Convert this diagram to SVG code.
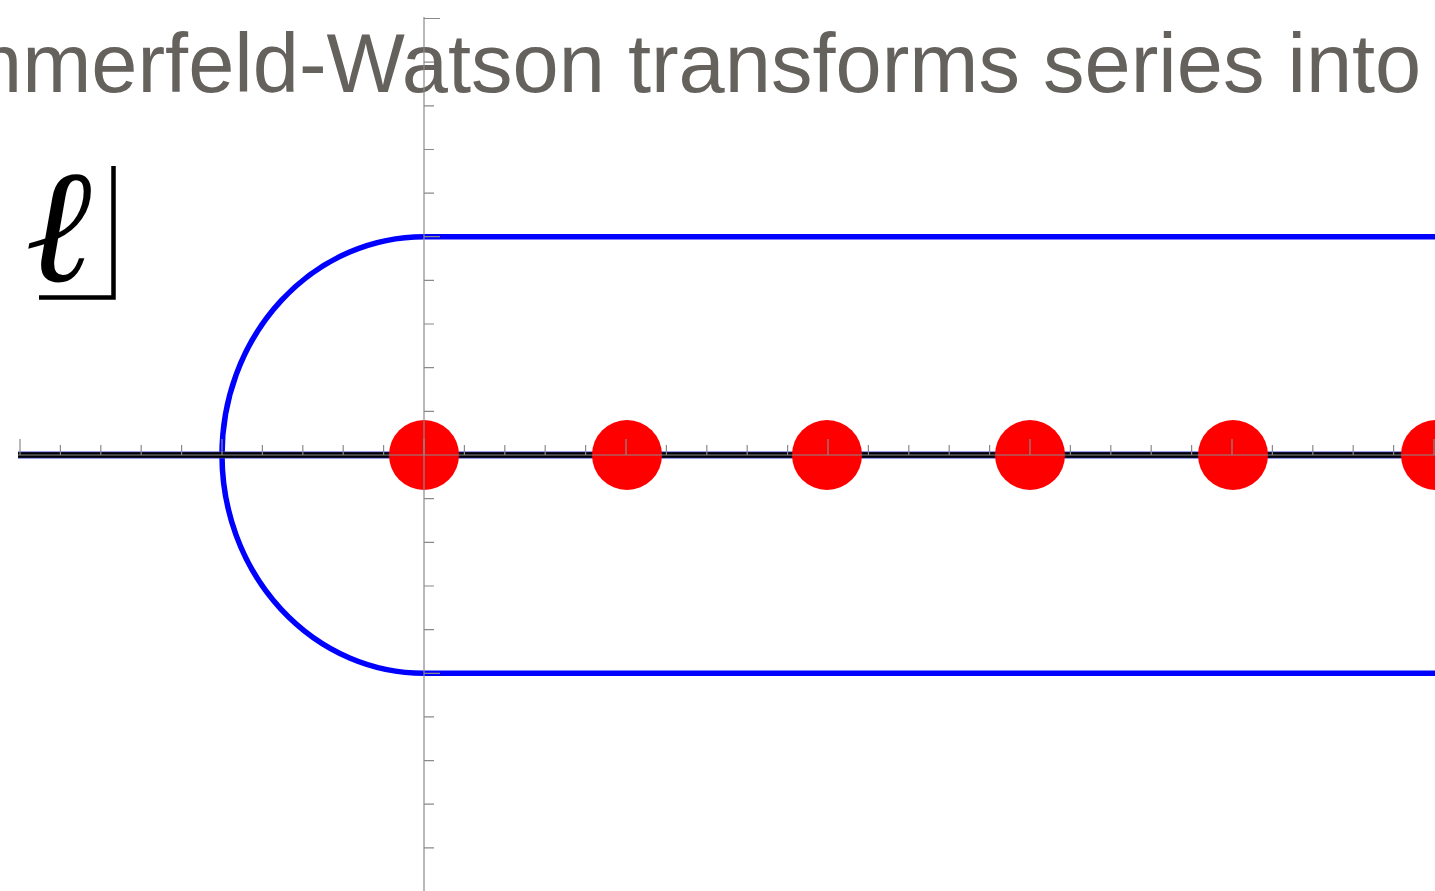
<svg xmlns="http://www.w3.org/2000/svg" width="1435" height="891" viewBox="0 0 1435 891">
<style>
.title{font-family:"Liberation Sans",Arial,Helvetica,sans-serif;font-size:83px;fill:#65625e}
.ax{stroke:#8a8a8a;stroke-width:1.2;fill:none}
.pole{fill:#ff0000}
</style>
<rect width="1435" height="891" fill="#ffffff"/>
<g id="title"><text class="title" x="-47" y="92">mmerfeld-Watson transforms series into</text></g>
<g id="contour">
<path d="M1436,236.7 H424 A202,218.3 0 0 0 424,673.3 H1436" fill="none" stroke="#0000ff" stroke-width="5.5"/>
</g>
<g id="real-line">
<line x1="18" y1="455" x2="1435" y2="455" stroke="#3a3acc" stroke-width="7"/>
<line x1="18" y1="455" x2="1435" y2="455" stroke="#000000" stroke-width="5.5"/>
</g>
<g id="poles">
<circle class="pole" cx="424" cy="455" r="35"/>
<circle class="pole" cx="627" cy="455" r="35"/>
<circle class="pole" cx="827" cy="455" r="35"/>
<circle class="pole" cx="1030" cy="455" r="35"/>
<circle class="pole" cx="1233" cy="455" r="35"/>
<circle class="pole" cx="1436" cy="455" r="35"/>
</g>
<g id="axes">
<line class="ax" x1="18" y1="455" x2="1435" y2="455"/>
<line class="ax" x1="424" y1="17" x2="424" y2="891"/>
<path class="ax" d="M20,439V455M222,439V455M424,439V455M626,439V455M828,439V455M1030,439V455M1232,439V455M1434,439V455"/>
<path class="ax" d="M60.4,445V455M100.8,445V455M141.2,445V455M181.6,445V455M262.4,445V455M302.8,445V455M343.2,445V455M383.6,445V455M464.4,445V455M504.8,445V455M545.2,445V455M585.6,445V455M666.4,445V455M706.8,445V455M747.2,445V455M787.6,445V455M868.4,445V455M908.8,445V455M949.2,445V455M989.6,445V455M1070.4,445V455M1110.8,445V455M1151.2,445V455M1191.6,445V455M1272.4,445V455M1312.8,445V455M1353.2,445V455M1393.6,445V455"/>
<path class="ax" d="M424,18.5H440M424,236.7H440M424,673.3H440"/>
<path class="ax" d="M424,62.2H434M424,105.8H434M424,149.5H434M424,193.1H434M424,280.4H434M424,324H434M424,367.7H434M424,411.3H434M424,498.7H434M424,542.3H434M424,586H434M424,629.6H434M424,716.9H434M424,760.6H434M424,804.2H434M424,847.9H434"/>
</g>
<g id="label">
<text x="25" y="281" font-family="DejaVu Serif, serif" font-style="italic" font-size="160" fill="#000000">ℓ</text>
<path d="M39,297.5H113.5V166" fill="none" stroke="#000000" stroke-width="4.5"/>
</g>
</svg>
